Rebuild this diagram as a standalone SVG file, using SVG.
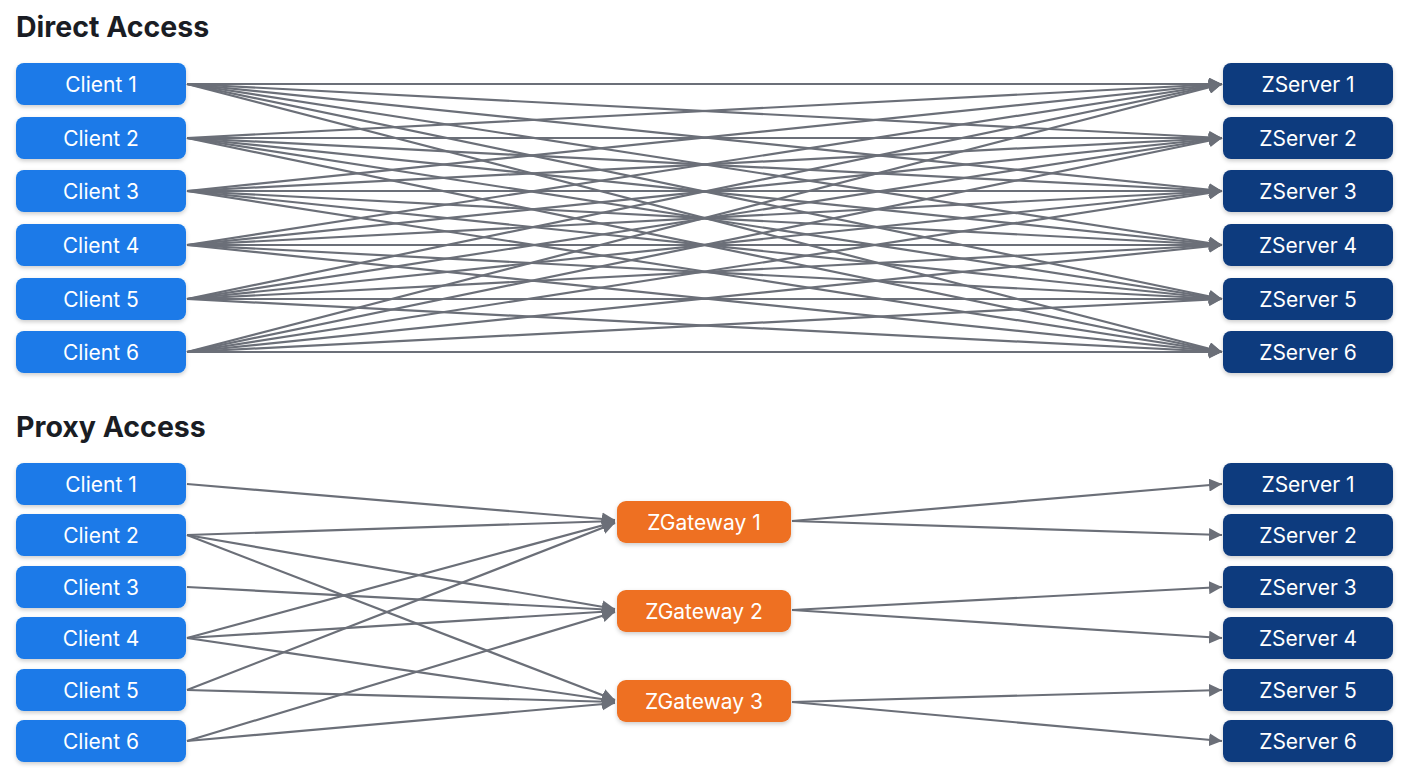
<svg xmlns="http://www.w3.org/2000/svg" width="1408" height="768" viewBox="0 0 1408 768">
<defs>
<marker id="a" viewBox="0 0 10 10" refX="10" refY="5" markerWidth="13" markerHeight="13" markerUnits="userSpaceOnUse" orient="auto"><path d="M0,0 L10,5 L0,10 z" fill="#6b6f78"/></marker>
<filter id="sh" x="-10%" y="-20%" width="120%" height="150%"><feDropShadow dx="0" dy="2" stdDeviation="2" flood-opacity="0.2"/></filter>
</defs>
<style>
.t{font-family:Inter,"Liberation Sans",sans-serif;font-weight:700;font-size:28.5px;fill:#1a1d24}
.l{font-family:Inter,"Liberation Sans",sans-serif;font-size:21px;fill:#fff;text-anchor:middle;dominant-baseline:central}
.c{fill:#1a7ae8;filter:url(#sh)}
.s{fill:#0d3a7e;filter:url(#sh)}
.g{fill:#ee7020;filter:url(#sh)}
#conn line{stroke:#6b6f78;stroke-width:2.2;marker-end:url(#a)}
</style>
<rect width="1408" height="768" fill="#fff"/>
<text class="t" x="16" y="37">Direct Access</text>
<text class="t" x="16" y="437">Proxy Access</text>
<g id="conn">
<g id="direct">
<line x1="187" y1="84" x2="1222" y2="84"/><line x1="187" y1="84" x2="1222" y2="138"/><line x1="187" y1="84" x2="1222" y2="191"/><line x1="187" y1="84" x2="1222" y2="245"/><line x1="187" y1="84" x2="1222" y2="299"/><line x1="187" y1="84" x2="1222" y2="352"/>
<line x1="187" y1="138" x2="1222" y2="84"/><line x1="187" y1="138" x2="1222" y2="138"/><line x1="187" y1="138" x2="1222" y2="191"/><line x1="187" y1="138" x2="1222" y2="245"/><line x1="187" y1="138" x2="1222" y2="299"/><line x1="187" y1="138" x2="1222" y2="352"/>
<line x1="187" y1="191" x2="1222" y2="84"/><line x1="187" y1="191" x2="1222" y2="138"/><line x1="187" y1="191" x2="1222" y2="191"/><line x1="187" y1="191" x2="1222" y2="245"/><line x1="187" y1="191" x2="1222" y2="299"/><line x1="187" y1="191" x2="1222" y2="352"/>
<line x1="187" y1="245" x2="1222" y2="84"/><line x1="187" y1="245" x2="1222" y2="138"/><line x1="187" y1="245" x2="1222" y2="191"/><line x1="187" y1="245" x2="1222" y2="245"/><line x1="187" y1="245" x2="1222" y2="299"/><line x1="187" y1="245" x2="1222" y2="352"/>
<line x1="187" y1="299" x2="1222" y2="84"/><line x1="187" y1="299" x2="1222" y2="138"/><line x1="187" y1="299" x2="1222" y2="191"/><line x1="187" y1="299" x2="1222" y2="245"/><line x1="187" y1="299" x2="1222" y2="299"/><line x1="187" y1="299" x2="1222" y2="352"/>
<line x1="187" y1="352" x2="1222" y2="84"/><line x1="187" y1="352" x2="1222" y2="138"/><line x1="187" y1="352" x2="1222" y2="191"/><line x1="187" y1="352" x2="1222" y2="245"/><line x1="187" y1="352" x2="1222" y2="299"/><line x1="187" y1="352" x2="1222" y2="352"/>
</g>
<g id="proxy">
<line x1="187" y1="484" x2="615" y2="520"/>
<line x1="187" y1="535" x2="615" y2="521"/><line x1="187" y1="535" x2="615" y2="609"/><line x1="187" y1="535" x2="615" y2="700"/>
<line x1="187" y1="587" x2="615" y2="610"/>
<line x1="187" y1="638" x2="615" y2="522"/><line x1="187" y1="638" x2="615" y2="611"/><line x1="187" y1="638" x2="615" y2="701"/>
<line x1="187" y1="690" x2="615" y2="523"/><line x1="187" y1="690" x2="615" y2="702"/>
<line x1="187" y1="741" x2="615" y2="612"/><line x1="187" y1="741" x2="615" y2="703"/>
<line x1="792" y1="521" x2="1222" y2="484"/><line x1="792" y1="521" x2="1222" y2="535"/>
<line x1="792" y1="610" x2="1222" y2="587"/><line x1="792" y1="610" x2="1222" y2="638"/>
<line x1="792" y1="702" x2="1222" y2="690"/><line x1="792" y1="702" x2="1222" y2="741"/>
</g>
</g>
<g id="c1"><rect class="c" x="16" y="63" width="170" height="42" rx="8"/><text class="l" x="101" y="84">Client 1</text></g>
<g id="c2"><rect class="c" x="16" y="117" width="170" height="42" rx="8"/><text class="l" x="101" y="138">Client 2</text></g>
<g id="c3"><rect class="c" x="16" y="170" width="170" height="42" rx="8"/><text class="l" x="101" y="191">Client 3</text></g>
<g id="c4"><rect class="c" x="16" y="224" width="170" height="42" rx="8"/><text class="l" x="101" y="245">Client 4</text></g>
<g id="c5"><rect class="c" x="16" y="278" width="170" height="42" rx="8"/><text class="l" x="101" y="299">Client 5</text></g>
<g id="c6"><rect class="c" x="16" y="331" width="170" height="42" rx="8"/><text class="l" x="101" y="352">Client 6</text></g>
<g id="s1"><rect class="s" x="1223" y="63" width="170" height="42" rx="8"/><text class="l" x="1308" y="84">ZServer 1</text></g>
<g id="s2"><rect class="s" x="1223" y="117" width="170" height="42" rx="8"/><text class="l" x="1308" y="138">ZServer 2</text></g>
<g id="s3"><rect class="s" x="1223" y="170" width="170" height="42" rx="8"/><text class="l" x="1308" y="191">ZServer 3</text></g>
<g id="s4"><rect class="s" x="1223" y="224" width="170" height="42" rx="8"/><text class="l" x="1308" y="245">ZServer 4</text></g>
<g id="s5"><rect class="s" x="1223" y="278" width="170" height="42" rx="8"/><text class="l" x="1308" y="299">ZServer 5</text></g>
<g id="s6"><rect class="s" x="1223" y="331" width="170" height="42" rx="8"/><text class="l" x="1308" y="352">ZServer 6</text></g>
<g id="pc1"><rect class="c" x="16" y="463" width="170" height="42" rx="8"/><text class="l" x="101" y="484">Client 1</text></g>
<g id="pc2"><rect class="c" x="16" y="514" width="170" height="42" rx="8"/><text class="l" x="101" y="535">Client 2</text></g>
<g id="pc3"><rect class="c" x="16" y="566" width="170" height="42" rx="8"/><text class="l" x="101" y="587">Client 3</text></g>
<g id="pc4"><rect class="c" x="16" y="617" width="170" height="42" rx="8"/><text class="l" x="101" y="638">Client 4</text></g>
<g id="pc5"><rect class="c" x="16" y="669" width="170" height="42" rx="8"/><text class="l" x="101" y="690">Client 5</text></g>
<g id="pc6"><rect class="c" x="16" y="720" width="170" height="42" rx="8"/><text class="l" x="101" y="741">Client 6</text></g>
<g id="g1"><rect class="g" x="617" y="501" width="174" height="42" rx="9"/><text class="l" x="704" y="522">ZGateway 1</text></g>
<g id="g2"><rect class="g" x="617" y="590" width="174" height="42" rx="9"/><text class="l" x="704" y="611">ZGateway 2</text></g>
<g id="g3"><rect class="g" x="617" y="680" width="174" height="42" rx="9"/><text class="l" x="704" y="701">ZGateway 3</text></g>
<g id="ps1"><rect class="s" x="1223" y="463" width="170" height="42" rx="8"/><text class="l" x="1308" y="484">ZServer 1</text></g>
<g id="ps2"><rect class="s" x="1223" y="514" width="170" height="42" rx="8"/><text class="l" x="1308" y="535">ZServer 2</text></g>
<g id="ps3"><rect class="s" x="1223" y="566" width="170" height="42" rx="8"/><text class="l" x="1308" y="587">ZServer 3</text></g>
<g id="ps4"><rect class="s" x="1223" y="617" width="170" height="42" rx="8"/><text class="l" x="1308" y="638">ZServer 4</text></g>
<g id="ps5"><rect class="s" x="1223" y="669" width="170" height="42" rx="8"/><text class="l" x="1308" y="690">ZServer 5</text></g>
<g id="ps6"><rect class="s" x="1223" y="720" width="170" height="42" rx="8"/><text class="l" x="1308" y="741">ZServer 6</text></g>
</svg>
